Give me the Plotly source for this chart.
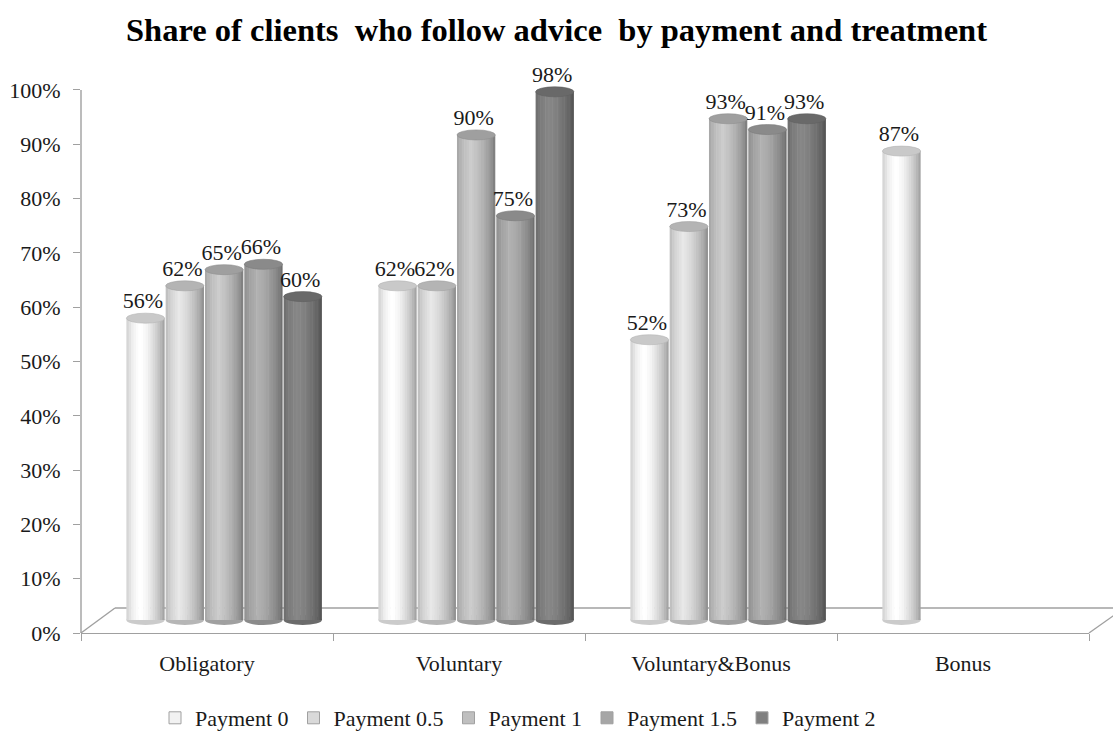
import numpy as np
import plotly.graph_objects as go

# ---------------- data ----------------
categories = ["Obligatory", "Voluntary", "Voluntary&Bonus", "Bonus"]
series_names = ["Payment 0", "Payment 0.5", "Payment 1", "Payment 1.5", "Payment 2"]
payment_0 = [56, 62, 52, 87]
payment_05 = [62, 62, 73, None]
payment_1 = [65, 90, 93, None]
payment_15 = [66, 75, 91, None]
payment_2 = [60, 98, 93, None]
series_values = [payment_0, payment_05, payment_1, payment_15, payment_2]
y_ticks = [0, 10, 20, 30, 40, 50, 60, 70, 80, 90, 100]

# ---------------- style ----------------
base_grey = [242, 217, 191, 166, 127]
FONT = "Liberation Serif"
AXIS_GREY = "#a0a0a0"
TEXT = "#1a1a1a"
bar_w = 0.152
slot = 0.156
first_off = -0.244
N_STRIPS = 16
cap_h = 0.0093  # half height of cylinder caps (in y2 units)

shade_t = [0.0, 0.15, 0.35, 0.55, 0.75, 0.9, 1.0]
shade_f = [0.86, 0.98, 1.07, 1.0, 0.88, 0.76, 0.64]


def grey(level):
    v = int(max(0, min(255, round(level))))
    return f"rgb({v},{v},{v})"


cat_pos = list(range(len(categories)))
fig = go.Figure()
shapes = []

for k, (name, vals) in enumerate(zip(series_names, series_values)):
    g = base_grey[k]
    off = first_off + k * slot
    frac = [None if v is None else v / 100 for v in vals]
    # cylinder body as shaded strips
    for i in range(N_STRIPS):
        t = (i + 0.5) / N_STRIPS
        f = np.interp(t, shade_t, shade_f)
        sw = bar_w / N_STRIPS
        fig.add_trace(go.Bar(
            x=cat_pos, y=frac, yaxis="y2",
            offset=off - bar_w / 2 + i * sw,
            width=sw + (0.002 if i < N_STRIPS - 1 else 0),
            marker=dict(color=grey(g * f), line=dict(width=0)),
            showlegend=False, hoverinfo="skip",
        ))
    # legend entry
    fig.add_trace(go.Bar(
        x=[None], y=[None], yaxis="y2", name=name,
        marker=dict(color=grey(g), line=dict(color=AXIS_GREY, width=1)),
        showlegend=True, hoverinfo="skip",
    ))
    # caps and labels
    lx, ly, lt = [], [], []
    for c, v in zip(cat_pos, frac):
        if v is None:
            continue
        cx = c + off
        shapes.append(dict(type="circle", xref="x", yref="y2",
                           x0=cx - bar_w / 2, x1=cx + bar_w / 2,
                           y0=-cap_h, y1=cap_h, layer="below",
                           fillcolor=grey(g * 0.84), line=dict(width=0)))
        shapes.append(dict(type="circle", xref="x", yref="y2",
                           x0=cx - bar_w / 2, x1=cx + bar_w / 2,
                           y0=v - cap_h, y1=v + cap_h, layer="above",
                           fillcolor=grey(g * 0.83),
                           line=dict(color=grey(g * 0.75), width=0.6)))
        lx.append(cx - 0.01)
        ly.append(v + 0.008)
        lt.append(f"{round(v * 100)}%")
    fig.add_trace(go.Scatter(
        x=lx, y=ly, yaxis="y2", mode="text", text=lt,
        textposition="top center", cliponaxis=False,
        textfont=dict(family=FONT, size=22, color=TEXT),
        showlegend=False, hoverinfo="skip",
    ))

# floor (3D base)
floor_y = 0.0452
shapes += [
    dict(type="line", xref="paper", yref="paper", x0=0, y0=0, x1=0.0337, y1=floor_y,
         line=dict(color=AXIS_GREY, width=1.4), layer="below"),
    dict(type="line", xref="paper", yref="paper", x0=0.0337, y0=floor_y, x1=1.035, y1=floor_y,
         line=dict(color=AXIS_GREY, width=1.4), layer="below"),
    dict(type="line", xref="paper", yref="paper", x0=1, y0=0, x1=1.035, y1=floor_y,
         line=dict(color=AXIS_GREY, width=1.4), layer="below"),
    dict(type="line", xref="paper", yref="y", x0=0, y0=0, x1=0, y1=1,
         line=dict(color=AXIS_GREY, width=1.4)),
]

fig.update_layout(
    width=1113, height=736,
    margin=dict(l=81, r=24, t=80, b=103, autoexpand=False),
    paper_bgcolor="white", plot_bgcolor="white",
    barmode="overlay",
    title=dict(text="Share of clients  who follow advice  by payment and treatment",
               x=0.5, xref="container", xanchor="center",
               y=1 - 30 / 736, yref="container", yanchor="middle",
               font=dict(family=FONT, size=32.5, color="black", weight="bold")),
    font=dict(family=FONT, size=22, color=TEXT),
    xaxis=dict(range=[-0.5, 3.5], tickmode="array", tickvals=cat_pos, ticktext=categories,
               ticks="", showgrid=False, zeroline=False, showline=True, automargin=False,
               linecolor=AXIS_GREY, linewidth=1.4, ticklabelstandoff=10,
               tickfont=dict(family=FONT, size=22, color=TEXT),
               minor=dict(tickmode="array", tickvals=[-0.5, 0.5, 1.5, 2.5, 3.5],
                          ticks="outside", ticklen=7, tickcolor=AXIS_GREY, tickwidth=1.4)),
    yaxis=dict(range=[0, 1.0184], tickmode="array", tickvals=[v / 100 for v in y_ticks],
               ticktext=[f"{v}%" for v in y_ticks], ticks="outside", ticklen=7,
               tickcolor=AXIS_GREY, tickwidth=1.4, showgrid=False, zeroline=False,
               showline=False, ticklabelstandoff=8, automargin=False,
               tickfont=dict(family=FONT, size=22, color=TEXT)),
    yaxis2=dict(range=[-0.0241, 1.0019], overlaying="y", visible=False),
    legend=dict(orientation="h", xref="container", x=155 / 1113, xanchor="left",
                yref="container", y=1 - 718 / 736, yanchor="middle",
                font=dict(family=FONT, size=22, color=TEXT),
                bgcolor="rgba(0,0,0,0)"),
    shapes=shapes,
)

fig.write_html("out.html", config={"displayModeBar": False},
               post_script="document.body.style.margin='0';document.body.style.padding='0';")
